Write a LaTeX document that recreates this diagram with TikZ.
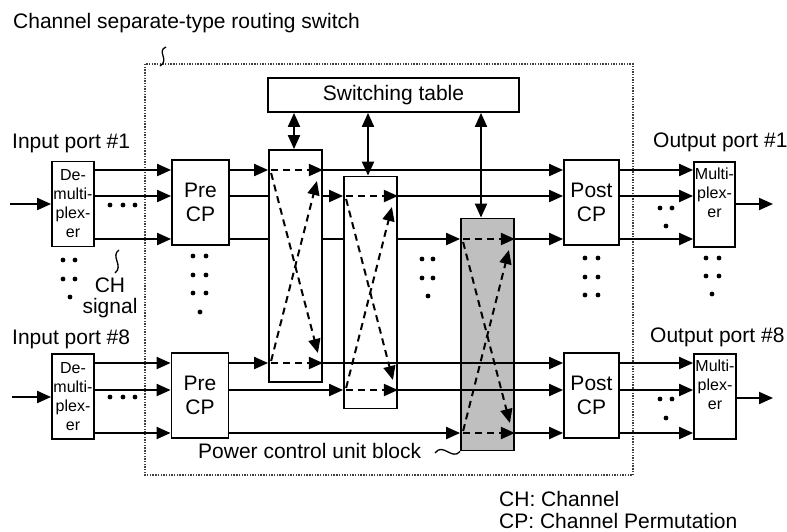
\documentclass[tikz,border=0pt]{standalone}
\usepackage{fontspec}
\setmainfont{Liberation Sans}
\usetikzlibrary{arrows.meta,calc}
\begin{document}
\begin{tikzpicture}[x=1pt,y=-1pt,
  tip/.tip={Triangle[length=14pt,width=12pt]},
  box/.style={draw,line width=1.8pt,fill=white,inner sep=0pt,align=center,font=\fontsize{21}{24}\selectfont},
  smallbox/.style={draw,line width=1.8pt,fill=white,inner sep=0pt,minimum width=42pt,minimum height=85pt},
  smalltxt/.style={inner sep=0pt,align=center,font=\fontsize{16}{19}\selectfont},
  xbar/.style={draw,line width=1.8pt,fill=white,inner sep=0pt,minimum width=53pt,minimum height=232pt},
  lbl/.style={inner sep=0pt,anchor=base west,font=\fontsize{21}{24}\selectfont},
  conn/.style={line width=2pt},
  arr/.style={line width=2pt,-tip},
  darr/.style={line width=2pt,tip-tip},
  dsh/.style={line width=2pt,dash pattern=on 7pt off 5pt,-tip},
  sq/.style={line width=1.3pt},
  dot/.style={fill=black}
]
\useasboundingbox (0,0) rectangle (787,531);

% outer dotted boundary
\draw[line width=1.4pt,black!75,dash pattern=on 1.4pt off 1.3pt] (145,64) rectangle (633,475);

% rows
\coordinate (ra) at (0,170);
\coordinate (rb) at (0,196);
\coordinate (rc) at (0,239);
\coordinate (rd) at (0,363);
\coordinate (re) at (0,390);
\coordinate (rf) at (0,433);

% boxes
\node[box,minimum width=251pt,minimum height=34pt] (table) at (393.5,95) {Switching table};
\node[smallbox] (demux1) at (73,204) {};
\node[smalltxt] (demux1t) at (73,204) {De-\\multi-\\plex-\\er};
\node[smallbox] (demux8) at (73,396.5) {};
\node[smalltxt] (demux8t) at (73,396.5) {De-\\multi-\\plex-\\er};
\node[box,minimum width=57pt,minimum height=85pt] (precp1) at (200.5,202.5) {Pre\\CP};
\node[box,minimum width=57pt,minimum height=85pt] (precp8) at (200,395.5) {Pre\\CP};
\node[xbar] (cb1) at (295.5,266) {};
\node[xbar] (cb2) at (370.5,292.5) {};
\node[xbar,fill=black!25] (cb3) at (487.5,334.5) {};
\node[box,minimum width=55pt,minimum height=85pt] (postcp1) at (591.5,202.5) {Post\\CP};
\node[box,minimum width=55pt,minimum height=85pt] (postcp8) at (591.5,395.5) {Post\\CP};
\node[smallbox,minimum width=41pt] (mux1) at (714.5,204.5) {};
\node[smalltxt] (mux1t) at (714.5,193) {Multi-\\plex-\\er};
\node[smallbox,minimum width=42pt] (mux8) at (715,396.5) {};
\node[smalltxt] (mux8t) at (715,385) {Multi-\\plex-\\er};

% input / output
\coordinate (in1) at (10,204);
\coordinate (in8) at (12,397);
\coordinate (out1) at (773,204);
\coordinate (out8) at (773,398);
\draw[arr] (in1) -- (demux1.west |- in1);
\draw[arr] (in8) -- (demux8.west |- in8);
\draw[arr] (mux1.east |- out1) -- (out1);
\draw[arr] (mux8.east |- out8) -- (out8);

% demux -> pre CP
\foreach \r in {ra,rb,rc} \draw[arr] (demux1.east |- \r) -- (precp1.west |- \r);
\foreach \r in {rd,re,rf} \draw[arr] (demux8.east |- \r) -- (precp8.west |- \r);
% post CP -> mux
\foreach \r in {ra,rb,rc} \draw[arr] (postcp1.east |- \r) -- (mux1.west |- \r);
\foreach \r in {rd,re,rf} \draw[arr] (postcp8.east |- \r) -- (mux8.west |- \r);

% top group
\draw[arr] (precp1.east |- ra) -- (cb1.west |- ra);
\draw[arr] (cb1.east |- ra) -- (postcp1.west |- ra);
\draw[conn] (precp1.east |- rb) -- (cb1.west |- rb);
\draw[arr] (cb1.east |- rb) -- (cb2.west |- rb);
\draw[arr] (cb2.east |- rb) -- (postcp1.west |- rb);
\draw[conn] (precp1.east |- rc) -- (cb1.west |- rc);
\draw[conn] (cb1.east |- rc) -- (cb2.west |- rc);
\draw[arr] (cb2.east |- rc) -- (cb3.west |- rc);
\draw[arr] (cb3.east |- rc) -- (postcp1.west |- rc);
% bottom group
\draw[arr] (precp8.east |- rd) -- (cb1.west |- rd);
\draw[arr] (cb1.east |- rd) -- (postcp8.west |- rd);
\draw[arr] (precp8.east |- re) -- (cb2.west |- re);
\draw[arr] (cb2.east |- re) -- (postcp8.west |- re);
\draw[arr] (precp8.east |- rf) -- (cb3.west |- rf);
\draw[arr] (cb3.east |- rf) -- (postcp8.west |- rf);

% switching table arrows
\coordinate (s1) at (294,0);
\coordinate (s2) at (368,0);
\coordinate (s3) at (481,0);
\draw[darr] (table.south -| s1) -- (cb1.north -| s1);
\draw[darr] (table.south -| s2) -- (cb2.north -| s2);
\draw[darr] (table.south -| s3) -- (cb3.north -| s3);

% dashed crossbar paths
\foreach \b/\t/\u in {cb1/ra/rd, cb2/rb/re, cb3/rc/rf}{
  \draw[dsh] ($(\b.west |- \t)+(3,0)$) -- (\b.east |- \t);
  \draw[dsh] ($(\b.west |- \u)+(3,0)$) -- (\b.east |- \u);
  \draw[dsh] ($(\b.west |- \t)+(3,3)$) -- ($(\b.east |- \u)+(-5,-10)$);
  \draw[dsh] ($(\b.west |- \u)+(3,-2)$) -- ($(\b.east |- \t)+(-6,11)$);
}

% dots
\foreach \p in {(110,205),(123,205),(135,205),(110,397),(123,397),(135,397),
  (63,260),(75,260),(63,279),(75,279),(70,297),
  (193,256),(206,256),(193,275),(206,275),(193,293),(206,293),(200,312),
  (422,259),(433,259),(422,278),(433,278),(428,296),
  (660,208),(672,208),(666,226),(660,399),(672,399),(666,418),
  (585,258),(598,258),(585,277),(598,277),(585,295),(598,295),
  (706,258),(719,258),(706,276),(719,276),(712,294)}
  \fill[dot] \p circle (2.4pt);

% labels
\node[lbl] (title) at (13,28) {Channel separate-type routing switch};
\node[lbl] (in1l) at (12,148) {Input port \#1};
\node[lbl] (in8l) at (12,344) {Input port \#8};
\node[lbl] (out1l) at (653,147) {Output port \#1};
\node[lbl] (out8l) at (650,342) {Output port \#8};
\node[inner sep=0pt,anchor=base,font=\fontsize{21}{24}\selectfont] (chl) at (110,292) {CH};
\node[inner sep=0pt,anchor=base,font=\fontsize{21}{24}\selectfont] (sigl) at (110,313) {signal};
\node[lbl] (pcl) at (198,458) {Power control unit block};
\node[lbl] (leg1) at (499,506) {CH: Channel};
\node[lbl] (leg2) at (499,528) {CP: Channel Permutation};

% squiggles
\draw[sq] (166,47) .. controls (156,51) and (170,60) .. (160,66);
\draw[sq] (119,250) .. controls (110,256) and (124,266) .. (115,273);
\draw[sq] (435,453) .. controls (443,442) and (452,461) .. (cb3.south west);
\end{tikzpicture}
\end{document}
